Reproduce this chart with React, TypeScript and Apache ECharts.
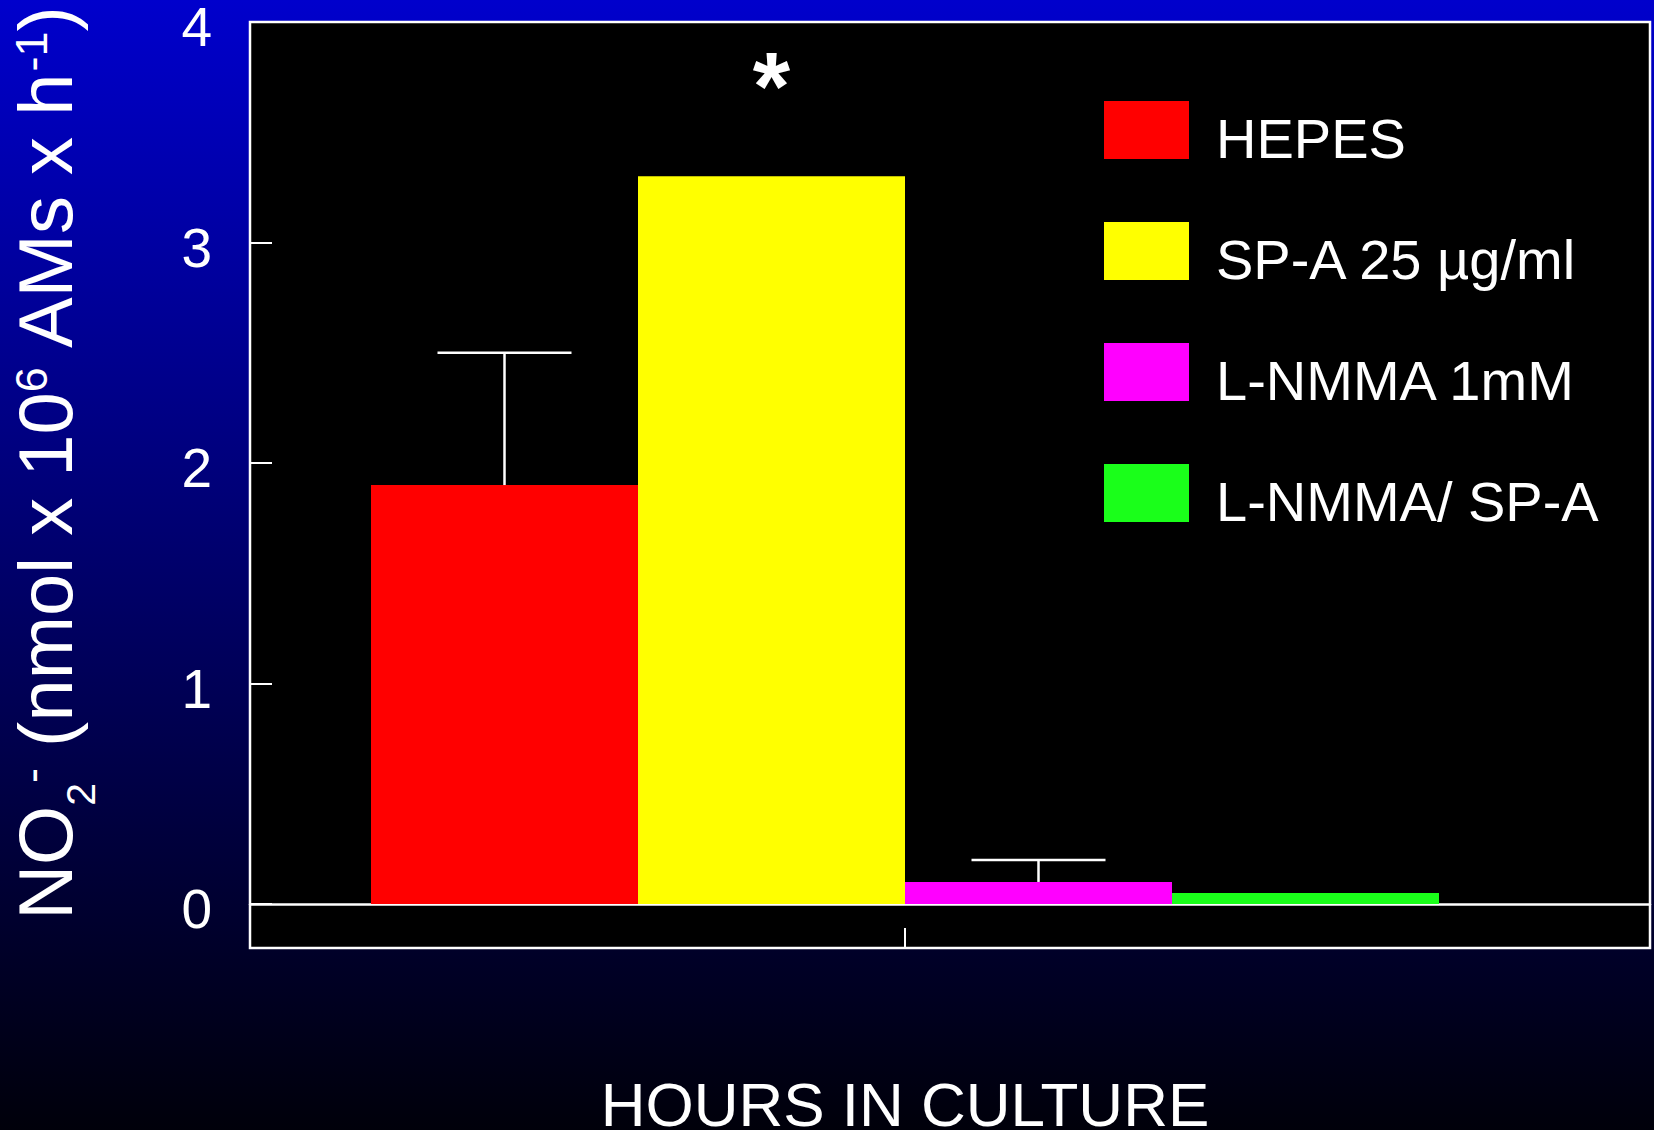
import React, { useEffect, useRef } from "react";
import * as echarts from "echarts";

// ---- data ----
const categories = [""];
const seriesNames = ["HEPES", "SP-A 25 µg/ml", "L-NMMA 1mM", "L-NMMA/ SP-A"];
const hepesValues = [1.9];
const spaValues = [3.3];
const lnmmaValues = [0.1];
const lnmmaSpaValues = [0.05];
const errorTops = [2.5, null, 0.2, null];
const significance = ["", "*", "", ""];
const yTickValues = [0, 1, 2, 3, 4];

const seriesValues = [hepesValues, spaValues, lnmmaValues, lnmmaSpaValues];
const colors = ["#FF0000", "#FFFF00", "#FF00FF", "#1AFF1A"];

const FONT = "'Liberation Sans', Arial, Helvetica, sans-serif";
const BAR_W = 267;
const CAP_W = 134;

export default function App() {
  const ref = useRef<HTMLDivElement>(null);

  useEffect(() => {
    if (!ref.current) return;
    const chart = echarts.init(ref.current, undefined, { renderer: "svg" });
    const n = seriesValues.length;

    const errData: any[] = [];
    errorTops.forEach((t, i) => {
      if (t != null) errData.push([0, seriesValues[i][0], t, i]);
    });

    const barSeries = seriesValues.map((vals, i) => ({
      name: seriesNames[i],
      type: "bar",
      xAxisIndex: 1,
      yAxisIndex: 1,
      data: vals,
      barWidth: BAR_W,
      barGap: "0%",
      itemStyle: { color: colors[i] },
      z: 3,
      label: significance[i]
        ? {
            show: true,
            position: "top",
            distance: 43,
            formatter: significance[i],
            color: "#fff",
            fontSize: 96,
            fontWeight: "bold",
            fontFamily: FONT,
          }
        : { show: false },
    }));

    chart.setOption({
      animation: false,
      backgroundColor: "transparent",
      grid: [
        {
          left: 250,
          top: 22,
          width: 1400,
          height: 926,
          show: true,
          backgroundColor: "#000",
          borderColor: "#fff",
          borderWidth: 2.5,
          outerBoundsMode: "none",
          containLabel: false,
        },
        {
          left: 250,
          top: 22,
          width: 1310,
          height: 882,
          outerBoundsMode: "none",
          containLabel: false,
        },
      ],
      xAxis: [
        {
          gridIndex: 0,
          type: "value",
          min: 0,
          max: 1,
          axisLine: { show: true, onZero: true, lineStyle: { color: "#fff", width: 2.5 } },
          axisTick: { show: false },
          axisLabel: { show: false },
          splitLine: { show: false },
        },
        {
          gridIndex: 1,
          type: "category",
          data: categories,
          position: "bottom",
          offset: 44,
          axisLine: { show: false, onZero: false },
          axisTick: {
            show: true,
            inside: true,
            length: 20,
            alignWithLabel: true,
            lineStyle: { color: "#fff", width: 2 },
          },
          axisLabel: { show: false },
          name: "HOURS IN CULTURE",
          nameLocation: "middle",
          nameGap: 134,
          nameTextStyle: { color: "#fff", fontSize: 62, fontFamily: FONT, lineHeight: 44 },
        },
      ],
      yAxis: [
        {
          gridIndex: 0,
          type: "value",
          min: -0.2,
          max: 4,
          show: false,
          splitLine: { show: false },
        },
        {
          gridIndex: 1,
          type: "value",
          min: yTickValues[0],
          max: yTickValues[yTickValues.length - 1],
          interval: 1,
          axisLine: { show: false },
          axisTick: {
            show: true,
            inside: true,
            length: 22,
            lineStyle: { color: "#fff", width: 2 },
          },
          axisLabel: {
            margin: 38,
            formatter: "{a|{value}}",
            rich: {
              a: {
                color: "#fff",
                fontSize: 55,
                fontFamily: FONT,
                lineHeight: 30,
                padding: [10, 0, 0, 0],
              },
            },
          },
          splitLine: { show: false },
        },
      ],
      legend: {
        data: seriesNames,
        orient: "vertical",
        left: 1104,
        top: 94,
        padding: 0,
        itemWidth: 85,
        itemHeight: 58,
        itemGap: 49,
        icon: "rect",
        selectedMode: false,
        formatter: "{a|{name}}",
        textStyle: {
          color: "#fff",
          rich: {
            a: {
              color: "#fff",
              fontSize: 56,
              fontFamily: FONT,
              lineHeight: 58,
              padding: [16, 0, 0, 22],
            },
          },
        },
      },
      graphic: [
        {
          type: "text",
          x: 45,
          y: 463,
          rotation: Math.PI / 2,
          silent: true,
          style: {
            text:
              "{m|NO}{sb|2}{sp|-}{m| (nmol x 10}{sp|6}{m| AMs x h}{sp|-1}{m|)}",
            fill: "#fff",
            align: "center",
            verticalAlign: "middle",
            font: `76px ${FONT}`,
            rich: {
              m: { fill: "#fff", fontSize: 76, fontFamily: FONT },
              sp: { fill: "#fff", fontSize: 45, fontFamily: FONT, padding: [0, 0, 27, 0] },
              sb: { fill: "#fff", fontSize: 41, fontFamily: FONT, padding: [71, 0, 0, 0] },
            },
          },
        },
      ],
      series: [
        ...barSeries,
        {
          type: "custom",
          xAxisIndex: 1,
          yAxisIndex: 1,
          z: 5,
          encode: { x: 0, y: [1, 2] },
          data: errData,
          renderItem: (params: any, api: any) => {
            const cat = api.value(0);
            const base = api.value(1);
            const top = api.value(2);
            const idx = api.value(3);
            const p0 = api.coord([cat, base]);
            const p1 = api.coord([cat, top]);
            const x = p0[0] + (idx - (n - 1) / 2) * BAR_W;
            const half = CAP_W / 2;
            const st = { stroke: "#fff", lineWidth: 2.5 };
            return {
              type: "group",
              children: [
                { type: "line", shape: { x1: x, y1: p0[1], x2: x, y2: p1[1] }, style: st },
                { type: "line", shape: { x1: x - half, y1: p1[1], x2: x + half, y2: p1[1] }, style: st },
              ],
            };
          },
        },
      ],
    });

    return () => chart.dispose();
  }, []);

  return (
    <div
      style={{
        position: "absolute",
        left: 0,
        top: 0,
        width: 1654,
        height: 1130,
        background: "linear-gradient(#0000CC, #00000A)",
      }}
    >
      <div ref={ref} style={{ width: 1654, height: 1130 }} />
    </div>
  );
}
